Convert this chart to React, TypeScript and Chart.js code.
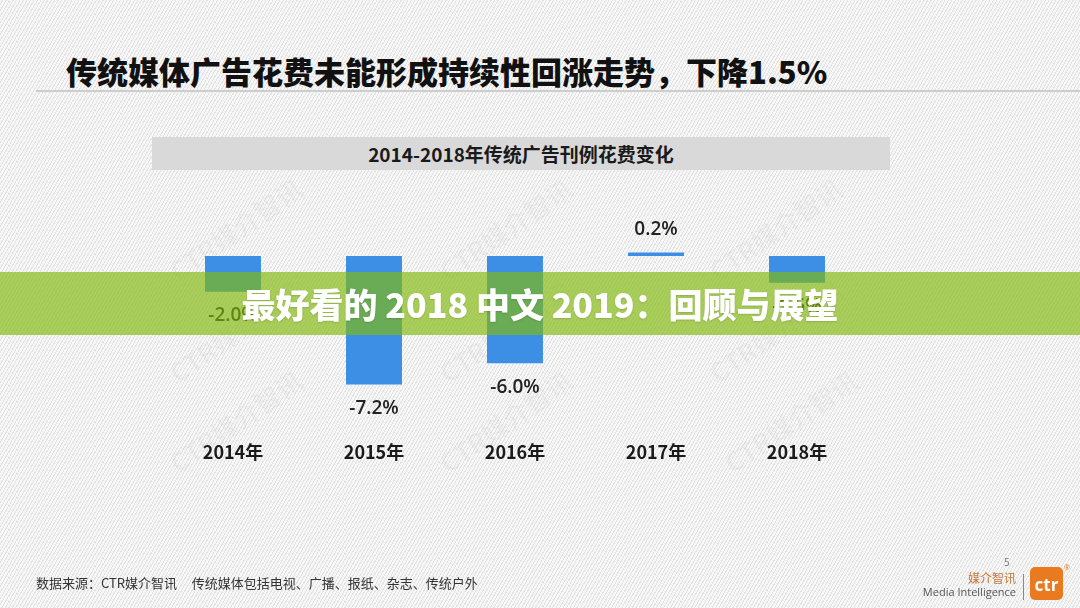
import React, { useEffect, useRef } from "react";
import { Chart, registerables } from "chart.js";

Chart.register(...registerables);

const categories = ["2014年", "2015年", "2016年", "2017年", "2018年"];
const changeValues = [-2.0, -7.2, -6.0, 0.2, -1.5];
const valueLabels = ["-2.0%", "-7.2%", "-6.0%", "0.2%", "-1.5%"];

const titleText = "传统媒体广告花费未能形成持续性回涨走势，下降1.5%";
const subtitleText = "2014-2018年传统广告刊例花费变化";
const bannerText = "最好看的 2018 中文 2019：回顾与展望";
const footerSource = "数据来源：CTR媒介智讯";
const footerNote = "传统媒体包括电视、广播、报纸、杂志、传统户外";

const CJK = '"Noto Sans CJK SC", "Noto Sans", sans-serif';
const LATIN = '"Open Sans", "Noto Sans CJK SC", sans-serif';

const watermarkSpots = [
  [235, 228], [505, 228], [775, 228],
  [235, 330], [505, 330], [775, 330],
  [235, 420], [505, 420], [790, 420],
];

const valueLabelPlugin = {
  id: "valueLabels",
  afterDatasetsDraw(chart: any) {
    const ctx = chart.ctx;
    const meta = chart.getDatasetMeta(0);
    ctx.save();
    ctx.font = `600 19px ${LATIN}`;
    ctx.fillStyle = "#222222";
    ctx.textAlign = "center";
    ctx.textBaseline = "middle";
    meta.data.forEach((el: any, i: number) => {
      const v = changeValues[i];
      const y = v < 0 ? el.y + 24 : el.y - 23;
      ctx.fillText(valueLabels[i], el.x, y);
    });
    ctx.restore();
  },
};

function BarChart() {
  const ref = useRef<HTMLCanvasElement | null>(null);
  useEffect(() => {
    if (!ref.current) return;
    const chart = new Chart(ref.current, {
      type: "bar",
      data: {
        labels: categories,
        datasets: [
          {
            data: changeValues,
            backgroundColor: "#3d8fe6",
            borderWidth: 0,
            barPercentage: 0.397,
            categoryPercentage: 1,
          },
        ],
      },
      options: {
        responsive: false,
        animation: false,
        events: [],
        layout: {
          padding: { left: 162.5, right: 212.5, top: 238.1, bottom: 103.5 },
        },
        plugins: {
          legend: { display: false },
          tooltip: { enabled: false },
          title: { display: false },
        },
        scales: {
          x: {
            type: "category",
            offset: true,
            grid: { display: false, drawTicks: false },
            border: { display: false },
            ticks: {
              padding: 42,
              color: "#1a1a1a",
              font: { family: CJK, size: 18, weight: "bold" },
            },
          },
          y: {
            display: false,
            min: -8,
            max: 1,
          },
        },
      },
      plugins: [valueLabelPlugin],
    });
    return () => chart.destroy();
  }, []);
  return (
    <canvas
      ref={ref}
      width={1080}
      height={608}
      style={{ position: "absolute", left: 0, top: 0, width: 1080, height: 608 }}
    />
  );
}

export default function App() {
  return (
    <div
      style={{
        position: "fixed",
        left: 0,
        top: 0,
        width: 1080,
        height: 608,
        overflow: "hidden",
        backgroundColor: "#f4f4f4",
        backgroundImage:
          "repeating-linear-gradient(120deg, #f7f7f7 0px, #f7f7f7 2px, #e2e2e2 2px, #e2e2e2 3px)",
        fontFamily: CJK,
      }}
    >
      {watermarkSpots.map(([x, y], i) => (
        <div
          key={i}
          style={{
            position: "absolute",
            left: x - 80,
            top: y - 18,
            width: 160,
            textAlign: "center",
            fontSize: 26,
            fontWeight: "bold",
            color: "rgba(120,120,120,0.06)",
            transform: "rotate(-35deg)",
            whiteSpace: "nowrap",
            fontFamily: CJK,
          }}
        >
          CTR媒介智讯
        </div>
      ))}

      <div
        style={{
          position: "absolute",
          left: 66,
          top: 49,
          fontSize: 31,
          fontWeight: 900,
          color: "#111",
          whiteSpace: "nowrap",
          lineHeight: "44px",
          letterSpacing: 0,
        }}
      >
        {titleText}
      </div>
      <div
        style={{
          position: "absolute",
          left: 36,
          top: 90,
          width: 1044,
          height: 2,
          background: "#cdcdcd",
        }}
      />

      <div
        style={{
          position: "absolute",
          left: 152,
          top: 137,
          width: 738,
          height: 33,
          background: "#d9d9d9",
          textAlign: "center",
          lineHeight: "33px",
          fontSize: 19,
          fontWeight: "bold",
          color: "#1a1a1a",
          whiteSpace: "nowrap",
        }}
      >
        {subtitleText}
      </div>

      <BarChart />

      <div
        style={{
          position: "absolute",
          left: 0,
          top: 272,
          width: 1080,
          height: 63,
          background: "rgba(130,185,10,0.66)",
          textAlign: "center",
          lineHeight: "63px",
          fontSize: 34,
          fontWeight: 900,
          color: "#ffffff",
          whiteSpace: "pre",
          textShadow: "0 1px 2px rgba(0,0,0,0.15)",
        }}
      >
        {bannerText}
      </div>

      <div
        style={{
          position: "absolute",
          left: 36,
          top: 574,
          fontSize: 13,
          color: "#333",
          whiteSpace: "pre",
          lineHeight: "18px",
        }}
      >
        {footerSource + "     " + footerNote}
      </div>

      <div
        style={{
          position: "absolute",
          left: 1004,
          top: 555,
          fontSize: 10,
          color: "#777",
          fontFamily: LATIN,
        }}
      >
        5
      </div>
      <div
        style={{
          position: "absolute",
          left: 940,
          top: 571,
          width: 76,
          textAlign: "right",
          fontSize: 12,
          color: "#c8763a",
          lineHeight: "14px",
        }}
      >
        媒介智讯
      </div>
      <div
        style={{
          position: "absolute",
          left: 900,
          top: 585,
          width: 116,
          textAlign: "right",
          fontSize: 11,
          color: "#555",
          lineHeight: "14px",
          fontFamily: LATIN,
          whiteSpace: "nowrap",
        }}
      >
        Media Intelligence
      </div>
      <div
        style={{
          position: "absolute",
          left: 1023,
          top: 574,
          width: 1,
          height: 26,
          background: "#888",
        }}
      />
      <div
        style={{
          position: "absolute",
          left: 1030,
          top: 567,
          width: 33,
          height: 33,
          borderRadius: 5,
          background: "#e97a1f",
          color: "#fff",
          fontFamily: LATIN,
          fontWeight: "bold",
          fontSize: 17,
          lineHeight: "36px",
          textAlign: "center",
        }}
      >
        ctr
      </div>
      <div
        style={{
          position: "absolute",
          left: 1064,
          top: 563,
          fontSize: 7,
          color: "#e97a1f",
          fontFamily: LATIN,
        }}
      >
        ®
      </div>
    </div>
  );
}
